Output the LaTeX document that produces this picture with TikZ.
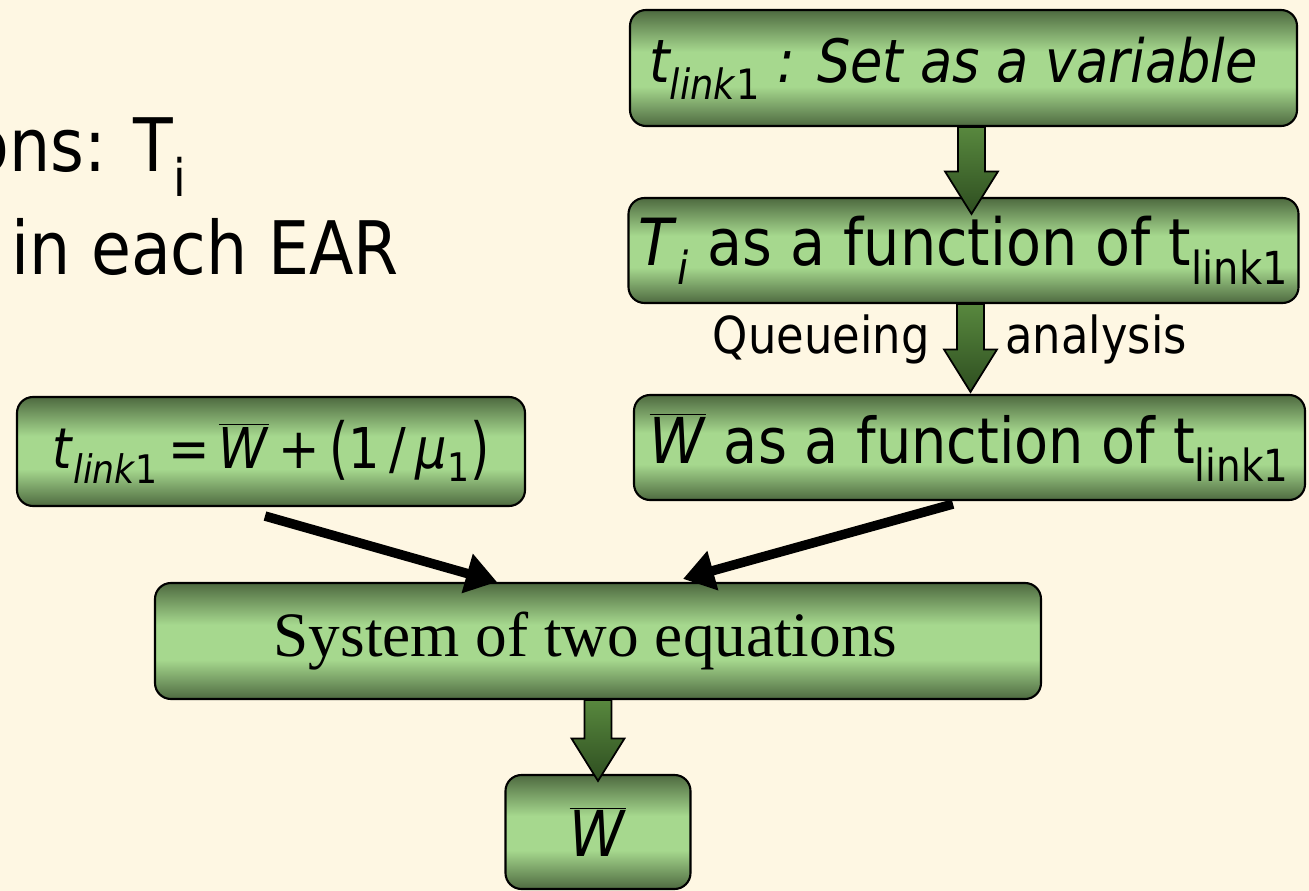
\documentclass[tikz,border=0pt]{standalone}
\usepackage{fontspec}
\usepackage{graphicx}
\setmainfont{DejaVu Sans}[FakeStretch=0.88]
\newfontfamily\timesfont{Liberation Serif}
\usetikzlibrary{positioning,calc,arrows.meta}

\definecolor{slidebg}{RGB}{254,247,227}
\definecolor{boxlight}{RGB}{166,216,142}
\definecolor{boxdark}{RGB}{78,106,64}
\definecolor{arrowlight}{RGB}{88,136,62}
\definecolor{arrowdark}{RGB}{46,78,32}

\pgfdeclareverticalshading{boxshade}{100bp}{color(0bp)=(boxdark); color(25bp)=(boxdark); color(42bp)=(boxlight); color(57bp)=(boxlight); color(75bp)=(boxdark); color(100bp)=(boxdark)}
\pgfdeclareverticalshading{arrowshade}{100bp}{color(0bp)=(arrowdark); color(25bp)=(arrowdark); color(75bp)=(arrowlight); color(100bp)=(arrowlight)}

\newcommand{\Wbar}{$\overline{\hbox{\textit{W}}}$}
\newcommand{\bigparen}[1]{\raisebox{-0.05em}{\scalebox{1}[1.2]{#1}}}

\begin{document}
\begin{tikzpicture}[node distance=2.5cm, auto]
    \tikzstyle{flowbox} = [rectangle, draw, line width=1.2pt, rounded corners=0.32cm, shade, shading=boxshade, align=center, inner sep=0pt, font=\fontsize{36}{43}\selectfont]
    \tikzstyle{blockarrow} = [draw, line width=1pt, shade, shading=arrowshade, to path={let \p1=(\tikztostart), \p2=(\tikztotarget) in (\x1-0.27cm,\y1) -- (\x1-0.27cm,\y2+0.85cm) -- (\x1-0.53cm,\y2+0.85cm) -- (\x1,\y2) -- (\x1+0.53cm,\y2+0.85cm) -- (\x1+0.27cm,\y2+0.85cm) -- (\x1+0.27cm,\y1) -- cycle}]
    \tikzstyle{thickarrow} = [line width=0.19cm, -{Triangle[width=0.78cm,length=0.62cm]}]
    \tikzstyle{slide} = [inner sep=0pt, anchor=base west, font=\fontsize{42}{50}\selectfont]
    \tikzstyle{armlabel} = [inner sep=0pt, font=\fontsize{29}{35}\selectfont]

    % Slide background
    \path[use as bounding box, fill=slidebg] (0,0) rectangle (26.18,-17.82);

    % Slide text behind the diagram
    \node[slide] (slideA) at (-0.62,-3.44) {ons: T\textsubscript{i}};
    \node[slide] (slideB) at (0.22,-5.5) {in each EAR};

    % Right column
    \node[flowbox, minimum width=13.34cm, minimum height=2.32cm, font=\fontsize{34}{41}\selectfont\itshape] (setvar) at (19.27,-1.36) {t\textsubscript{link\textup{1}} : Set as a variable\hspace*{0.4cm}};
    \node[flowbox, minimum width=13.40cm, minimum height=2.10cm, below of=setvar, node distance=3.65cm, font=\fontsize{37}{44}\selectfont] (tfunc) {\textit{T}\textsubscript{\textit{i}} as a function of t\textsubscript{link1}};
    \node[flowbox, minimum width=13.42cm, minimum height=2.10cm, below of=tfunc, node distance=3.94cm, xshift=0.12cm] (wfunc) {\Wbar{} as a function of t\textsubscript{link1}};

    % Left equation and result
    \node[flowbox, minimum width=10.16cm, minimum height=2.18cm, font=\fontsize{32}{38}\selectfont] (lhs) at (5.42,-9.03) {\textit{t}\textsubscript{\textit{link}1}\,=\,\Wbar\,+\,\bigparen{(}1\,/\,\textit{μ}\textsubscript{1}\bigparen{)}};
    \node[flowbox, minimum width=17.72cm, minimum height=2.32cm, font=\timesfont\fontsize{36}{43}\selectfont] (sys) at (11.96,-12.82) {System of two equations\hspace*{0.5cm}};
    \node[flowbox, minimum width=3.70cm, minimum height=2.28cm, below of=sys, node distance=3.82cm] (wbar) {\Wbar};

    % Block arrows
    \draw[blockarrow] ([xshift=0.16cm]setvar.south) to ([yshift=-0.34cm]tfunc.north);
    \draw[blockarrow] ([xshift=0.14cm]tfunc.south) to ([yshift=0.04cm]wfunc.north);
    \draw[blockarrow] (sys.south) to ([yshift=-0.14cm]wbar.north);
    \node[armlabel, anchor=base east] (queue) at ($(tfunc.south)+(-0.67,-0.98)$) {Queueing};
    \node[armlabel, anchor=base west] (analysis) at ($(tfunc.south)+(0.83,-0.98)$) {analysis};

    % Into the system
    \draw[thickarrow] ([xshift=-0.12cm,yshift=-0.18cm]lhs.south) -- ([xshift=-2.02cm]sys.north);
    \draw[thickarrow] ([xshift=-0.33cm,yshift=-0.06cm]wfunc.south) -- ([xshift=1.70cm,yshift=0.06cm]sys.north);
\end{tikzpicture}
\end{document}
